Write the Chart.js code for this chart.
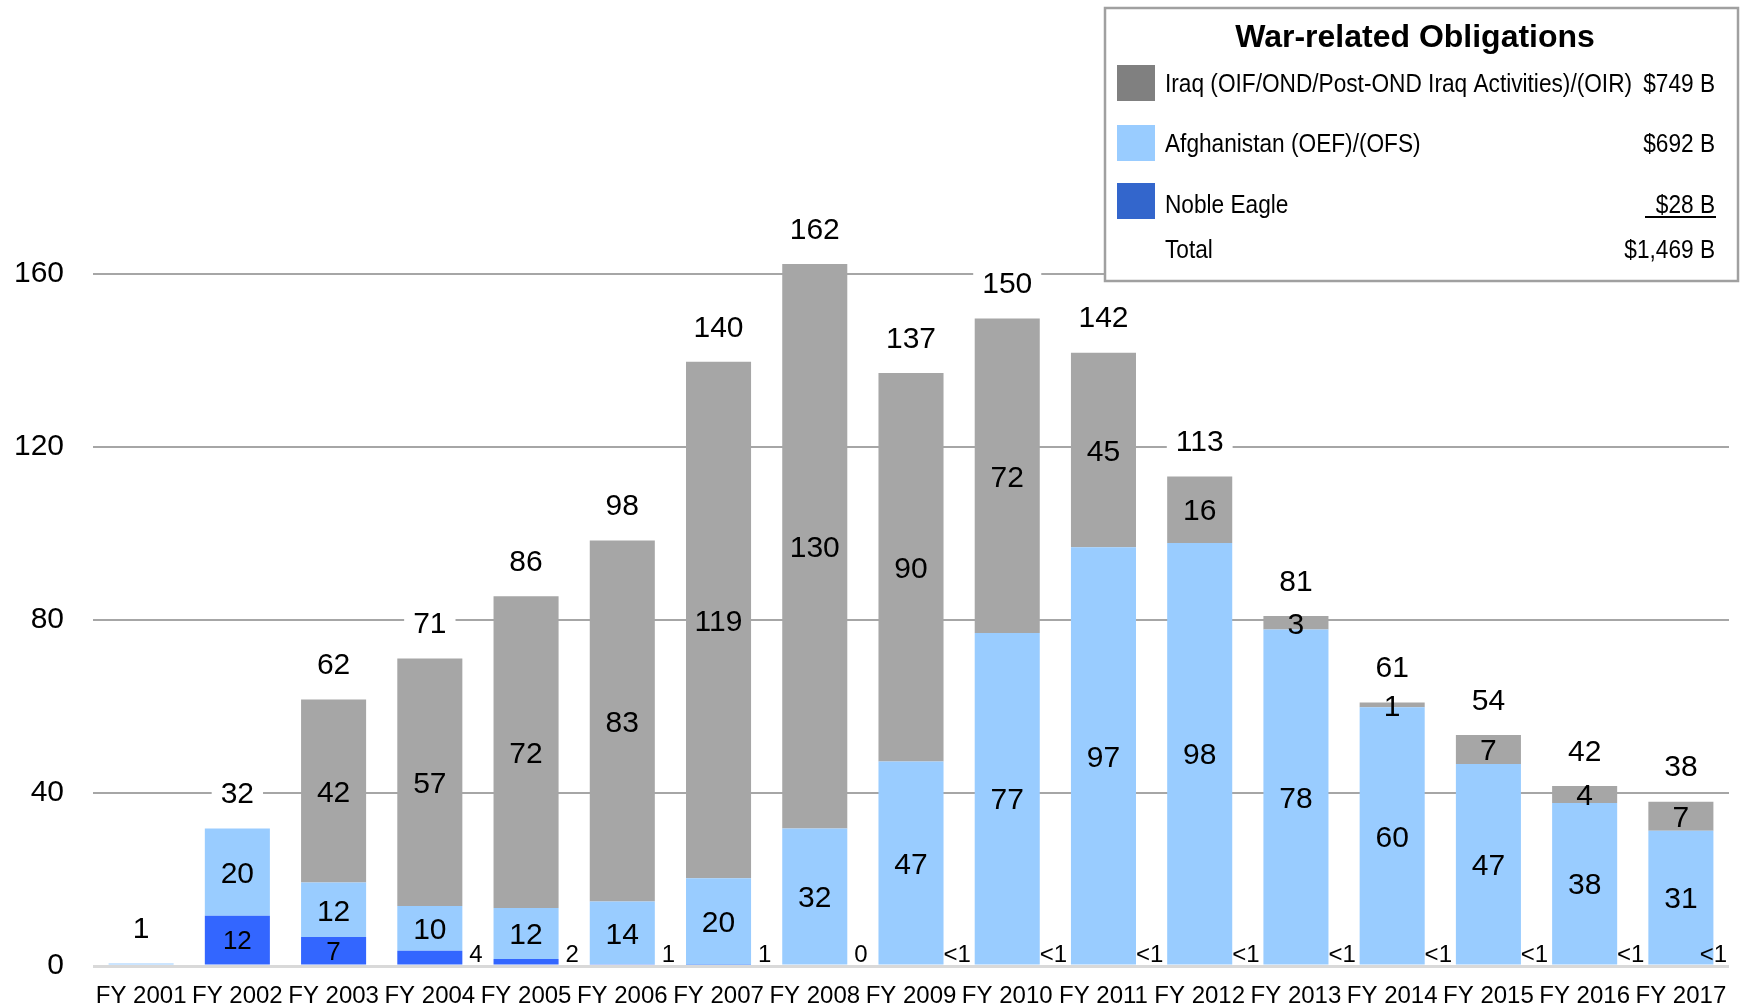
<!DOCTYPE html>
<html>
<head>
<meta charset="utf-8">
<script src="https://cdn.jsdelivr.net/npm/chart.js@4/dist/chart.umd.min.js"></script>
<style>
html,body{margin:0;padding:0;background:#ffffff;}
#wrap{width:1740px;height:1005px;position:relative;}
</style>
</head>
<body>
<div id="wrap"><canvas id="c"></canvas></div>
<script>
// ---------- data ----------
const categories = ["FY 2001","FY 2002","FY 2003","FY 2004","FY 2005","FY 2006","FY 2007","FY 2008","FY 2009",
  "FY 2010","FY 2011","FY 2012","FY 2013","FY 2014","FY 2015","FY 2016","FY 2017"];
const iraq        = [0, 0, 42.3, 57.2, 72.1, 83.5, 119.4, 130.5, 89.8, 72.7, 45.0, 15.4, 3.1, 1.1, 6.7, 3.9, 6.7];
const afghanistan = [0.6, 20.2, 12.6, 10.4, 11.8, 14.5, 20.0, 31.8, 47.3, 77.0, 96.8, 97.8, 77.8, 59.8, 46.7, 37.7, 31.3];
const nobleEagle  = [0, 11.6, 6.7, 3.5, 1.6, 0.4, 0.3, 0, 0, 0, 0, 0, 0, 0, 0, 0, 0];
const iraqLabels        = ["", "", "42", "57", "72", "83", "119", "130", "90", "72", "45", "16", "3", "1", "7", "4", "7"];
const afghanistanLabels = ["", "20", "12", "10", "12", "14", "20", "32", "47", "77", "97", "98", "78", "60", "47", "38", "31"];
const nobleEagleLabels  = ["", "12", "7", "4", "2", "1", "1", "0", "<1", "<1", "<1", "<1", "<1", "<1", "<1", "<1", "<1"];
const totalLabels       = ["1", "32", "62", "71", "86", "98", "140", "162", "137", "150", "142", "113", "81", "61", "54", "42", "38"];
const yTicks = [0, 40, 80, 120, 160];
const legendTitle = "War-related Obligations";
const seriesNames  = ["Iraq (OIF/OND/Post-OND Iraq Activities)/(OIR)", "Afghanistan (OEF)/(OFS)", "Noble Eagle"];
const seriesTotals = ["$749 B", "$692 B", "$28 B"];
const grandTotalName = "Total";
const grandTotalValue = "$1,469 B";

// ---------- styles ----------
const COLORS = { iraq: "#A6A6A6", afghanistan: "#99CCFF", nobleEagle: "#3366FF" };
const SWATCH = ["#808080", "#99CCFF", "#3366CC"];
const SANS = "'Liberation Sans', Arial, sans-serif";

function fontAvailable(name) {
  const c = document.createElement("canvas").getContext("2d");
  const s = "abcdefghijklmnopqrstuvwxyzWMi0123456789";
  c.font = "40px monospace";
  const w1 = c.measureText(s).width;
  c.font = "40px '" + name + "', monospace";
  const w2 = c.measureText(s).width;
  return Math.abs(w1 - w2) > 0.5;
}
const hasNarrow = fontAvailable("Liberation Sans Narrow");
const xTickFont = hasNarrow
  ? { family: "'Liberation Sans Narrow', 'Liberation Sans', sans-serif", size: 29, lineHeight: "44.8px" }
  : { family: SANS, size: 24, lineHeight: "44.8px" };
const xTickPad = 8;

function drawCentered(ctx, str, cx, cy, size, bold) {
  ctx.font = (bold ? "bold " : "") + size + "px " + SANS;
  ctx.fillText(str, cx, cy + 0.358 * size);
}

const barLabels = {
  id: "barLabels",
  afterDatasetsDraw(chart) {
    const ctx = chart.ctx;
    const xs = chart.scales.x, ys = chart.scales.y;
    const mNE = chart.getDatasetMeta(0), mAF = chart.getDatasetMeta(1), mIQ = chart.getDatasetMeta(2);
    const slot = xs.getPixelForValue(1) - xs.getPixelForValue(0);
    const zero = ys.getPixelForValue(0);
    ctx.save();
    ctx.textAlign = "center";
    ctx.textBaseline = "alphabetic";
    ctx.fillStyle = "#000";
    categories.forEach((c, i) => {
      const cx = xs.getPixelForValue(i);
      if (iraqLabels[i]) {
        const b = mIQ.data[i];
        drawCentered(ctx, iraqLabels[i], cx, (b.y + b.base) / 2, 30);
      }
      if (afghanistanLabels[i]) {
        const b = mAF.data[i];
        drawCentered(ctx, afghanistanLabels[i], cx, (b.y + b.base) / 2, 30);
      }
      if (nobleEagleLabels[i]) {
        const b = mNE.data[i];
        const h = b.base - b.y;
        if (h > 24) {
          drawCentered(ctx, nobleEagleLabels[i], cx, (b.y + b.base) / 2, 26);
        } else {
          ctx.font = "24px " + SANS;
          const w = ctx.measureText(nobleEagleLabels[i]).width;
          let lx = cx + slot / 2 - 2;
          lx = Math.min(lx, chart.chartArea.right - w / 2 - 2);
          ctx.fillText(nobleEagleLabels[i], lx, zero - 4);
        }
      }
      // total label with white background
      const total = iraq[i] + afghanistan[i] + nobleEagle[i];
      const top = ys.getPixelForValue(total);
      const ly = top - 36;
      ctx.font = "30px " + SANS;
      const tw = ctx.measureText(totalLabels[i]).width;
      ctx.fillStyle = "#fff";
      ctx.fillRect(cx - tw / 2 - 9, ly - 15, tw + 18, 30);
      ctx.fillStyle = "#000";
      drawCentered(ctx, totalLabels[i], cx, ly, 30);
    });
    ctx.restore();
  }
};

const legendBox = {
  id: "legendBox",
  afterDraw(chart) {
    const ctx = chart.ctx;
    ctx.save();
    ctx.fillStyle = "#fff";
    ctx.fillRect(1105, 8, 633, 273);
    ctx.strokeStyle = "#A0A0A0";
    ctx.lineWidth = 2.5;
    ctx.strokeRect(1105, 8, 633, 273);
    ctx.fillStyle = "#000";
    ctx.textAlign = "center";
    ctx.textBaseline = "alphabetic";
    ctx.font = "bold 32px " + SANS;
    ctx.fillText(legendTitle, 1415, 47);
    const swY = [65, 125, 183];
    const baseY = [92, 152, 213];
    const condensed = (str, x, y, align) => {
      ctx.save();
      ctx.translate(x, y);
      ctx.scale(0.855, 1);
      ctx.textAlign = align;
      ctx.font = "26.5px " + SANS;
      ctx.fillText(str, 0, 0);
      ctx.restore();
    };
    seriesNames.forEach((n, k) => {
      ctx.fillStyle = SWATCH[k];
      ctx.fillRect(1117, swY[k], 38, 36);
      ctx.fillStyle = "#000";
      condensed(n, 1165, baseY[k], "left");
      condensed(seriesTotals[k], 1715, baseY[k], "right");
    });
    ctx.strokeStyle = "#000";
    ctx.lineWidth = 2;
    ctx.beginPath();
    ctx.moveTo(1645, 217);
    ctx.lineTo(1716, 217);
    ctx.stroke();
    condensed(grandTotalName, 1165, 258, "left");
    condensed(grandTotalValue, 1715, 258, "right");
    ctx.restore();
  }
};

new Chart(document.getElementById("c"), {
  type: "bar",
  data: {
    labels: categories,
    datasets: [
      { label: seriesNames[2], data: nobleEagle, backgroundColor: COLORS.nobleEagle, stack: "s" },
      { label: seriesNames[1], data: afghanistan, backgroundColor: COLORS.afghanistan, stack: "s" },
      { label: seriesNames[0], data: iraq, backgroundColor: COLORS.iraq, stack: "s" }
    ]
  },
  options: {
    responsive: true,
    maintainAspectRatio: false,
    devicePixelRatio: 1,
    animation: false,
    layout: { autoPadding: false, padding: { top: 187.5, right: 11, bottom: 0, left: 0 } },
    datasets: { bar: { categoryPercentage: 1.0, barPercentage: 0.676, borderWidth: 0 } },
    plugins: { legend: { display: false }, tooltip: { enabled: false }, title: { display: false } },
    scales: {
      x: {
        stacked: true,
        grid: { display: false, drawTicks: false },
        border: { display: false },
        ticks: { color: "#000", font: xTickFont, padding: xTickPad, maxRotation: 0, autoSkip: false },
        afterFit(scale) { scale.height = 39; }
      },
      y: {
        stacked: true,
        min: 0,
        max: 180,
        border: { display: false },
        grid: {
          drawTicks: true,
          tickLength: 29,
          tickColor: "rgba(0,0,0,0)",
          color: (c) => (c.tick && c.tick.value === 0 ? "#D9D9D9" : "#A6A6A6"),
          lineWidth: (c) => (c.tick && c.tick.value === 0 ? 3 : 2)
        },
        ticks: { color: "#000", font: { family: SANS, size: 30 }, padding: 0 },
        afterBuildTicks(scale) { scale.ticks = yTicks.map(v => ({ value: v })); },
        afterFit(scale) { scale.width = 93; }
      }
    }
  },
  plugins: [barLabels, legendBox]
});
</script>
</body>
</html>
